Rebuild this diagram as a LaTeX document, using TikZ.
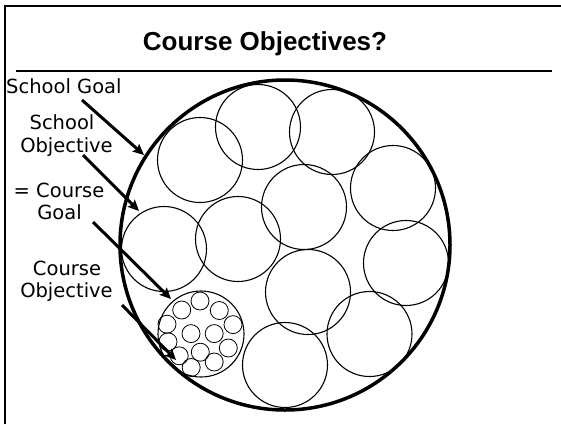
\documentclass[tikz,border=0pt]{standalone}
\usepackage{fontspec}
\setmainfont{Liberation Sans}
\newfontfamily\labelfont{DejaVu Sans}
\usetikzlibrary{arrows.meta}
\tikzset{
  frameline/.style={line width=2.4pt},
  bigc/.style={line width=3.5pt},
  midc/.style={line width=1.1pt},
  tinyc/.style={line width=0.8pt},
  lbl/.style={inner sep=0pt, anchor=base, font=\labelfont\fontsize{19.5pt}{22pt}\selectfont},
  pointer/.style={line width=3pt, -{Stealth[length=11pt,width=10pt,inset=2pt]}}
}
\begin{document}
\begin{tikzpicture}[x=1pt,y=-1pt]
\useasboundingbox (0,0) rectangle (561,424);
% frame
\draw[frameline] (5,424) -- (5,6) -- (561,6);
\draw[line width=1.8pt] (16,71) -- (552,71);
\node[inner sep=0pt, font=\bfseries\fontsize{26pt}{30pt}\selectfont] (title) at (265,44) {Course Objectives?};
% big circle
\draw[bigc] (285,245) circle (165);
% medium circles
\foreach \n/\x/\y in {a/393/188, b/406/263, c/369.5/334, d/304/207, e/308/292, f/285/365, g/332/132, h/200/160, i/258/127, j/164/249, k/238/239}
  \draw[midc] (\x,\y) circle (42.5);
% cluster circle
\draw[midc] (201,334) circle (43);
\foreach \x/\y in {200/301, 181.7/310, 219.3/310.5, 167/324.2, 233/324.6, 191/333.6, 214.2/333.6, 168/341.8, 228.3/348, 200.3/352.2, 179.2/355.8, 191.2/367.5, 214.2/362}
  \draw[tinyc] (\x,\y) circle (9);
% labels
\node[lbl, anchor=base west] (sg) at (6,93) {School Goal};
\node[lbl] (so1) at (62,129) {School};
\node[lbl] (so2) at (66.5,152) {Objective};
\node[lbl] (cg1) at (59,197) {= Course};
\node[lbl] (cg2) at (59.5,219) {Goal};
\node[lbl] (co1) at (67,275) {Course};
\node[lbl] (co2) at (66.5,297) {Objective};
% arrows
\coordinate (s1) at (82,100);  \coordinate (t1) at (144,155);
\coordinate (s2) at (83,155);  \coordinate (t2) at (139,211);
\coordinate (s3) at (93,222);  \coordinate (t3) at (171,299);
\coordinate (s4) at (122,305); \coordinate (t4) at (176,360);
\draw[pointer] (s1) -- (t1);
\draw[pointer] (s2) -- (t2);
\draw[pointer] (s3) -- (t3);
\draw[pointer] (s4) -- (t4);
\end{tikzpicture}
\end{document}
